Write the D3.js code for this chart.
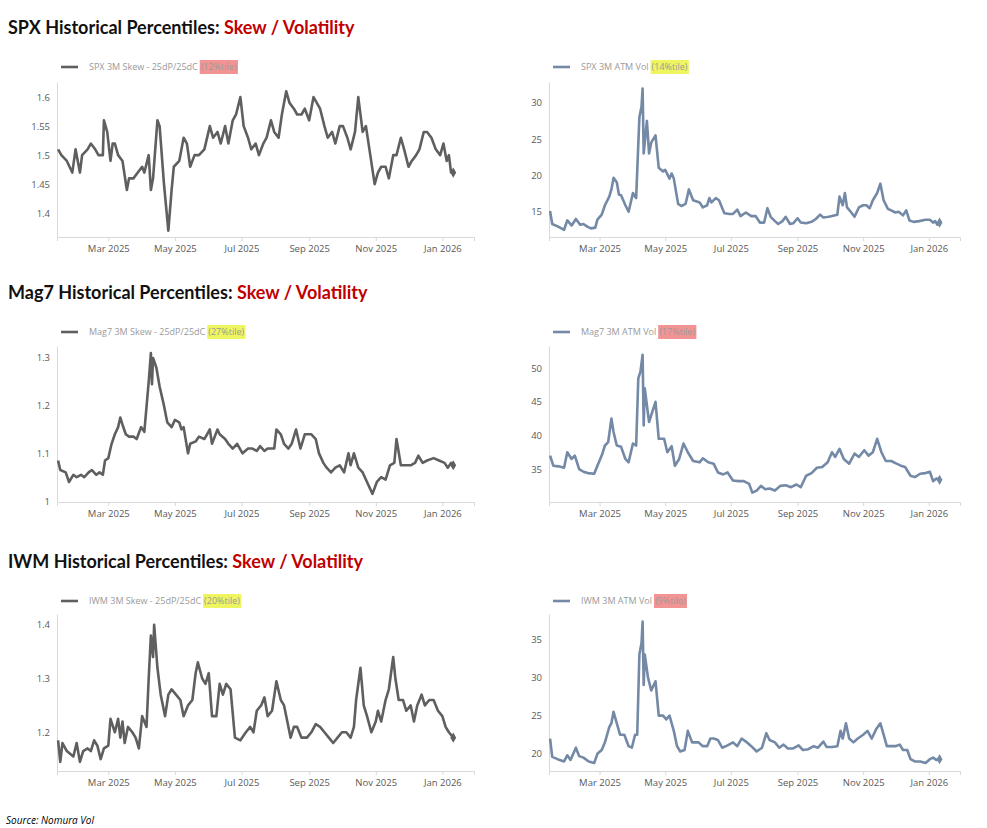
<!DOCTYPE html>
<html lang="en">
<head>
<meta charset="UTF-8">
<title>Historical Percentiles: Skew / Volatility</title>
<script src="https://d3js.org/d3.v7.min.js"></script>
<style>
  body { margin: 0; background: #fff; }
  svg { display: block; }
  .title { font-family: Lato, "Open Sans", sans-serif; font-weight: bold; font-size: 18px; }
  .tick text { font-family: "Open Sans", sans-serif; font-size: 9.5px; fill: #595959; }
  .legend { font-family: "Open Sans", sans-serif; font-size: 9px; fill: #9a9a9a; }
  .source { font-family: "Open Sans", sans-serif; font-style: italic; font-size: 10px; }
</style>
</head>
<body>
<svg id="chart" width="987" height="828"></svg>
<script>
// "MM-DD value" strings, the year rolls over to 2026 when the month goes back to 01
const raw = {
  spxSkew: "01-14 1.51,01-17 1.50,01-22 1.49,01-27 1.47,01-30 1.51,02-03 1.47,02-05 1.50,02-10 1.51,02-13 1.52,02-17 1.51,02-20 1.50,02-24 1.50,02-25 1.56,02-28 1.54,03-03 1.49,03-05 1.52,03-07 1.52,03-10 1.50,03-14 1.49,03-18 1.44,03-20 1.46,03-24 1.46,03-28 1.47,04-01 1.48,04-03 1.47,04-07 1.50,04-09 1.44,04-11 1.46,04-15 1.56,04-17 1.55,04-21 1.45,04-25 1.37,04-28 1.44,04-30 1.48,05-05 1.49,05-09 1.53,05-12 1.52,05-15 1.48,05-19 1.50,05-23 1.50,05-28 1.51,06-02 1.55,06-05 1.53,06-09 1.54,06-12 1.52,06-16 1.55,06-19 1.52,06-23 1.56,06-26 1.57,06-30 1.60,07-03 1.55,07-07 1.53,07-10 1.51,07-14 1.52,07-17 1.50,07-21 1.52,07-24 1.53,07-28 1.56,07-31 1.54,08-04 1.53,08-07 1.57,08-11 1.61,08-14 1.59,08-18 1.58,08-21 1.57,08-25 1.57,08-28 1.58,09-01 1.56,09-05 1.60,09-08 1.59,09-11 1.58,09-15 1.55,09-18 1.53,09-22 1.54,09-25 1.52,09-29 1.55,10-02 1.55,10-06 1.53,10-09 1.51,10-13 1.54,10-16 1.60,10-20 1.54,10-23 1.55,10-27 1.50,10-31 1.45,11-03 1.47,11-06 1.48,11-10 1.48,11-13 1.46,11-17 1.50,11-20 1.50,11-24 1.53,11-27 1.51,12-01 1.48,12-04 1.49,12-08 1.50,12-11 1.51,12-15 1.54,12-18 1.54,12-22 1.53,12-26 1.51,12-30 1.50,01-02 1.52,01-05 1.49,01-07 1.50,01-09 1.47,01-11 1.47",
  spxVol: "01-14 15,01-16 13.2,01-22 12.8,01-27 12.4,01-30 13.7,02-03 13.0,02-07 13.9,02-11 13.1,02-14 13.2,02-18 12.8,02-21 12.6,02-25 12.7,02-27 13.8,03-03 14.5,03-06 15.8,03-10 17,03-12 18,03-14 19.6,03-17 19,03-19 17.3,03-21 17.2,03-25 15.8,03-28 14.9,04-01 17.5,04-03 17,04-04 16.8,04-07 28,04-09 29.5,04-10 32,04-11 23,04-14 27.5,04-16 23,04-18 24.5,04-22 25.5,04-25 21,04-29 20.5,05-01 20.7,05-05 19.5,05-07 20.2,05-09 19.5,05-13 16,05-16 15.7,05-20 16,05-23 18,05-27 16.5,06-02 16.2,06-05 15.5,06-09 15.8,06-11 16.8,06-13 16.2,06-17 16.8,06-20 16.5,06-25 14.7,06-30 14.6,07-03 14.6,07-07 15.2,07-10 14.3,07-15 14.8,07-20 14.3,07-24 14.3,07-28 13.4,08-01 13.4,08-04 15.4,08-07 14.2,08-11 13.6,08-14 13.2,08-18 13.6,08-21 14.2,08-25 13.2,08-28 13.3,09-01 14.0,09-04 13.4,09-09 13.3,09-14 13.5,09-18 13.9,09-22 14.5,09-25 14.1,09-30 14.2,10-03 14.3,10-08 14.5,10-10 17,10-13 15.8,10-15 17.5,10-17 15.5,10-21 14.8,10-24 14.2,10-28 15.5,11-01 15.8,11-04 15.8,11-07 15.4,11-10 16.5,11-14 17.5,11-17 18.8,11-20 16.5,11-24 15.3,11-27 15.1,12-01 14.8,12-04 14.9,12-08 14.4,12-11 15.1,12-14 13.7,12-18 13.5,12-23 13.6,12-29 13.8,01-02 13.8,01-05 13.4,01-07 13.6,01-09 13.1,01-11 13.4",
  magSkew: "01-14 1.085,01-16 1.065,01-21 1.06,01-24 1.04,01-28 1.055,01-31 1.05,02-04 1.055,02-07 1.05,02-11 1.06,02-14 1.065,02-18 1.055,02-21 1.06,02-24 1.055,02-26 1.085,03-01 1.09,03-04 1.12,03-07 1.14,03-10 1.155,03-12 1.175,03-14 1.16,03-17 1.14,03-20 1.135,03-24 1.135,03-27 1.13,03-31 1.155,04-03 1.145,04-07 1.25,04-09 1.31,04-10 1.245,04-11 1.30,04-14 1.28,04-17 1.24,04-21 1.20,04-24 1.165,04-28 1.155,05-01 1.17,05-05 1.165,05-07 1.15,05-09 1.155,05-13 1.10,05-15 1.12,05-20 1.125,05-23 1.135,05-28 1.13,06-02 1.15,06-04 1.12,06-09 1.15,06-11 1.14,06-16 1.13,06-19 1.12,06-23 1.11,06-27 1.12,07-02 1.10,07-07 1.11,07-11 1.11,07-15 1.105,07-18 1.115,07-22 1.105,07-25 1.11,07-31 1.11,08-02 1.15,08-06 1.14,08-09 1.12,08-13 1.11,08-16 1.12,08-20 1.15,08-24 1.11,08-28 1.14,09-03 1.14,09-07 1.13,09-10 1.10,09-14 1.08,09-17 1.07,09-21 1.06,09-25 1.07,09-29 1.075,10-03 1.06,10-07 1.10,10-09 1.075,10-12 1.10,10-16 1.07,10-20 1.06,10-24 1.04,10-29 1.015,11-02 1.04,11-06 1.05,11-10 1.045,11-14 1.075,11-18 1.08,11-20 1.13,11-24 1.075,11-28 1.075,12-03 1.075,12-07 1.08,12-10 1.095,12-14 1.08,12-18 1.085,12-24 1.09,12-29 1.085,01-03 1.08,01-06 1.07,01-09 1.08,01-11 1.075",
  magVol: "01-14 37,01-17 35.5,01-22 35.4,01-27 35.2,01-30 37.5,02-03 36.5,02-06 37,02-10 35,02-14 34.6,02-18 34.4,02-24 34.3,02-27 35.5,03-03 37,03-06 38.5,03-09 39,03-12 42.5,03-14 40.5,03-17 38.5,03-21 38.3,03-25 36.5,03-28 36,04-01 38.8,04-04 38.5,04-06 48.5,04-08 49.5,04-10 52,04-11 41.5,04-12 47,04-16 42,04-18 43,04-22 45,04-25 39.5,04-30 39.5,05-03 37.5,05-07 38.4,05-10 35.5,05-14 36.5,05-18 38.8,05-22 37.5,05-27 36.2,06-02 36,06-05 36.6,06-10 36,06-15 35.8,06-19 34.5,06-24 34.2,06-28 34.5,07-03 33.3,07-08 33.2,07-13 33.2,07-18 32.8,07-21 31.5,07-25 31.8,07-29 32.5,08-02 32,08-06 32.1,08-11 31.8,08-16 32.5,08-21 32.6,08-26 32.3,08-31 32.7,09-04 32.3,09-09 34,09-14 34.4,09-19 35.2,09-24 35.3,09-29 36,10-03 37.5,10-06 36.8,10-10 38,10-14 36.5,10-19 35.8,10-24 37.3,10-28 36.8,11-02 37.8,11-06 37,11-10 37.5,11-14 39.5,11-18 37.5,11-22 36.2,11-27 36.2,12-02 35.8,12-06 35.5,12-10 35.3,12-15 34,12-19 33.8,12-24 34.3,12-29 34.4,01-02 34.6,01-05 33.2,01-08 33.6,01-11 33.4",
  iwmSkew: "01-14 1.185,01-16 1.145,01-18 1.18,01-22 1.165,01-25 1.16,01-28 1.155,01-31 1.18,02-03 1.145,02-06 1.165,02-10 1.17,02-13 1.165,02-16 1.185,02-19 1.175,02-22 1.15,02-25 1.17,03-01 1.175,03-03 1.225,03-07 1.20,03-10 1.225,03-12 1.19,03-14 1.22,03-16 1.18,03-19 1.21,03-23 1.20,03-26 1.19,03-29 1.17,04-01 1.23,04-03 1.22,04-05 1.21,04-07 1.30,04-09 1.38,04-11 1.34,04-12 1.40,04-15 1.32,04-18 1.27,04-22 1.23,04-25 1.27,04-28 1.28,05-02 1.27,05-06 1.26,05-09 1.23,05-13 1.25,05-17 1.26,05-20 1.31,05-22 1.33,05-26 1.30,05-29 1.29,06-01 1.31,06-04 1.23,06-08 1.23,06-11 1.29,06-14 1.27,06-17 1.29,06-21 1.28,06-25 1.19,06-30 1.185,07-05 1.20,07-09 1.21,07-12 1.20,07-15 1.24,07-19 1.25,07-22 1.265,07-25 1.23,07-29 1.24,08-02 1.295,08-06 1.26,08-09 1.25,08-12 1.22,08-15 1.19,08-18 1.21,08-21 1.21,08-25 1.19,08-30 1.19,09-03 1.20,09-07 1.215,09-11 1.21,09-15 1.20,09-19 1.19,09-23 1.18,09-27 1.19,10-01 1.20,10-05 1.20,10-09 1.19,10-12 1.21,10-14 1.26,10-18 1.32,10-21 1.25,10-24 1.23,10-28 1.20,11-01 1.22,11-03 1.24,11-06 1.22,11-10 1.26,11-13 1.28,11-17 1.34,11-19 1.30,11-22 1.26,11-26 1.26,11-29 1.24,12-03 1.25,12-06 1.22,12-09 1.25,12-13 1.27,12-16 1.25,12-20 1.26,12-24 1.26,12-28 1.24,01-01 1.23,01-04 1.21,01-07 1.20,01-11 1.19",
  iwmVol: "01-14 22,01-16 19.6,01-21 19.3,01-27 19,01-30 19.8,02-02 19.2,02-07 20.8,02-10 19.7,02-14 19.5,02-19 19,02-24 18.8,02-27 20,03-03 20.5,03-06 21.5,03-10 23.5,03-12 24,03-14 25.5,03-17 24,03-20 22.5,03-24 22.5,03-28 21,03-31 20.8,04-03 22.5,04-05 22.5,04-07 33,04-09 34.5,04-10 37.3,04-11 29,04-12 33,04-15 30,04-18 28.3,04-22 29.5,04-25 25,04-29 25,05-02 24.5,05-05 25,05-09 23,05-12 21,05-15 20.3,05-19 20.5,05-22 23,05-26 21.5,06-01 21.5,06-05 21,06-09 21,06-12 22,06-15 22,06-19 21.8,06-23 20.8,06-28 21.1,07-03 21.5,07-07 21,07-11 22,07-15 21.6,07-20 21,07-25 20.3,07-30 20.8,08-03 22.7,08-06 21.8,08-11 21.5,08-15 20.8,08-19 21.2,08-23 20.7,08-28 20.7,09-02 21.1,09-06 20.5,09-11 20.6,09-16 21,09-20 20.8,09-25 21.6,09-28 20.9,10-03 20.9,10-08 21,10-11 23,10-13 22,10-16 24,10-19 22,10-23 21.5,10-27 22,11-01 22.5,11-05 23,11-09 22,11-13 23.2,11-17 24,11-20 22.5,11-23 21,11-27 21,12-01 21,12-05 21.2,12-08 20.5,12-12 20.5,12-15 19.3,12-19 19,12-24 19,12-29 18.8,01-02 19.3,01-05 19.5,01-08 19.2,01-11 19.3"
};

function parseSeries(str) {
  let year = 2025, prevMonth = 1;
  return str.split(",").map(s => {
    const [md, v] = s.trim().split(" ");
    const [m, d] = md.split("-").map(Number);
    if (m < prevMonth) year++;
    prevMonth = m;
    return { date: new Date(year, m - 1, d), value: +v };
  });
}

const SKEW = "#5f5f5f", VOL = "#7489a6";
const RED = "#f39494", YELLOW = "#eef55f";

const rows = [
  { name: "SPX", titleY: 34, legY: 67, top: 82, bottom: 237,
    left:  { key: "spxSkew", label: "SPX 3M Skew - 25dP/25dC", pct: "(12%tile)", hl: RED, domain: [1.359, 1.626], ticks: [1.4, 1.45, 1.5, 1.55, 1.6] },
    right: { key: "spxVol", label: "SPX 3M ATM Vol", pct: "(14%tile)", hl: YELLOW, domain: [11.4, 32.9], ticks: [15, 20, 25, 30] } },
  { name: "Mag7", titleY: 299, legY: 332, top: 346, bottom: 502,
    left:  { key: "magSkew", label: "Mag7 3M Skew - 25dP/25dC", pct: "(27%tile)", hl: YELLOW, domain: [0.998, 1.325], ticks: [1, 1.1, 1.2, 1.3] },
    right: { key: "magVol", label: "Mag7 3M ATM Vol", pct: "(17%tile)", hl: RED, domain: [30.1, 53.3], ticks: [35, 40, 45, 50] } },
  { name: "IWM", titleY: 568, legY: 601, top: 614, bottom: 771,
    left:  { key: "iwmSkew", label: "IWM 3M Skew - 25dP/25dC", pct: "(20%tile)", hl: YELLOW, domain: [1.128, 1.42], ticks: [1.2, 1.3, 1.4] },
    right: { key: "iwmVol", label: "IWM 3M ATM Vol", pct: "(9%tile)", hl: RED, domain: [17.75, 38.3], ticks: [20, 25, 30, 35] } }
];

const svg = d3.select("#chart");
const timeDomain = [new Date(2025, 0, 13), new Date(2026, 0, 30)];
const monthTicks = d3.timeMonth.every(2).range(new Date(2025, 2, 1), new Date(2026, 0, 2));

function drawPanel(cfg, x0, x1, top, bottom, legY, color) {
  const data = parseSeries(raw[cfg.key]);
  const x = d3.scaleTime().domain(timeDomain).range([x0, x1]);
  const y = d3.scaleLinear().domain(cfg.domain).range([bottom, top]);
  const g = svg.append("g");

  // axes
  const xa = g.append("g").attr("transform", `translate(0,${bottom})`)
    .call(d3.axisBottom(x).tickValues(monthTicks).tickFormat(d3.timeFormat("%b %Y")).tickSize(4).tickPadding(4));
  const ya = g.append("g").attr("transform", `translate(${x0},0)`)
    .call(d3.axisLeft(y).tickValues(cfg.ticks).tickFormat(d => d).tickSize(0).tickPadding(7));
  [xa, ya].forEach(a => {
    a.select(".domain").attr("stroke", "#d9d9d9");
    a.selectAll(".tick line").attr("stroke", "#d9d9d9");
  });

  g.append("path").datum(data)
    .attr("fill", "none").attr("stroke", color).attr("stroke-width", 2.6).attr("stroke-linejoin", "round")
    .attr("d", d3.line().x(d => x(d.date)).y(d => y(d.value)));

  const last = data[data.length - 1];
  g.append("path").attr("d", d3.symbol(d3.symbolDiamond, 30)())
    .attr("transform", `translate(${x(last.date)},${y(last.value)})`).attr("fill", color);

  // legend
  const lg = g.append("g");
  const lx = x0 + 4;
  lg.append("line").attr("x1", lx).attr("x2", lx + 17).attr("y1", legY).attr("y2", legY)
    .attr("stroke", color).attr("stroke-width", 2.6);
  const hl = lg.append("rect").attr("fill", cfg.hl);
  const t = lg.append("text").attr("class", "legend").attr("x", lx + 28).attr("y", legY + 3).text(cfg.label);
  const w = t.node().getComputedTextLength();
  const p = lg.append("text").attr("class", "legend").attr("x", lx + 31 + w).attr("y", legY + 3).text(cfg.pct);
  const bb = p.node().getBBox();
  hl.attr("x", bb.x - 1).attr("y", legY - 7).attr("width", bb.width + 2).attr("height", 14);
}

rows.forEach(r => {
  const title = svg.append("text").attr("class", "title").attr("x", 8).attr("y", r.titleY);
  title.append("tspan").attr("fill", "#111").text(`${r.name} Historical Percentiles: `);
  title.append("tspan").attr("fill", "#c00000").text("Skew / Volatility");
  drawPanel(r.left, 57, 474, r.top, r.bottom, r.legY, SKEW);
  drawPanel(r.right, 549, 960, r.top, r.bottom, r.legY, VOL);
});

svg.append("text").attr("class", "source").attr("x", 6).attr("y", 824).text("Source: Nomura Vol");
</script>
</body>
</html>
